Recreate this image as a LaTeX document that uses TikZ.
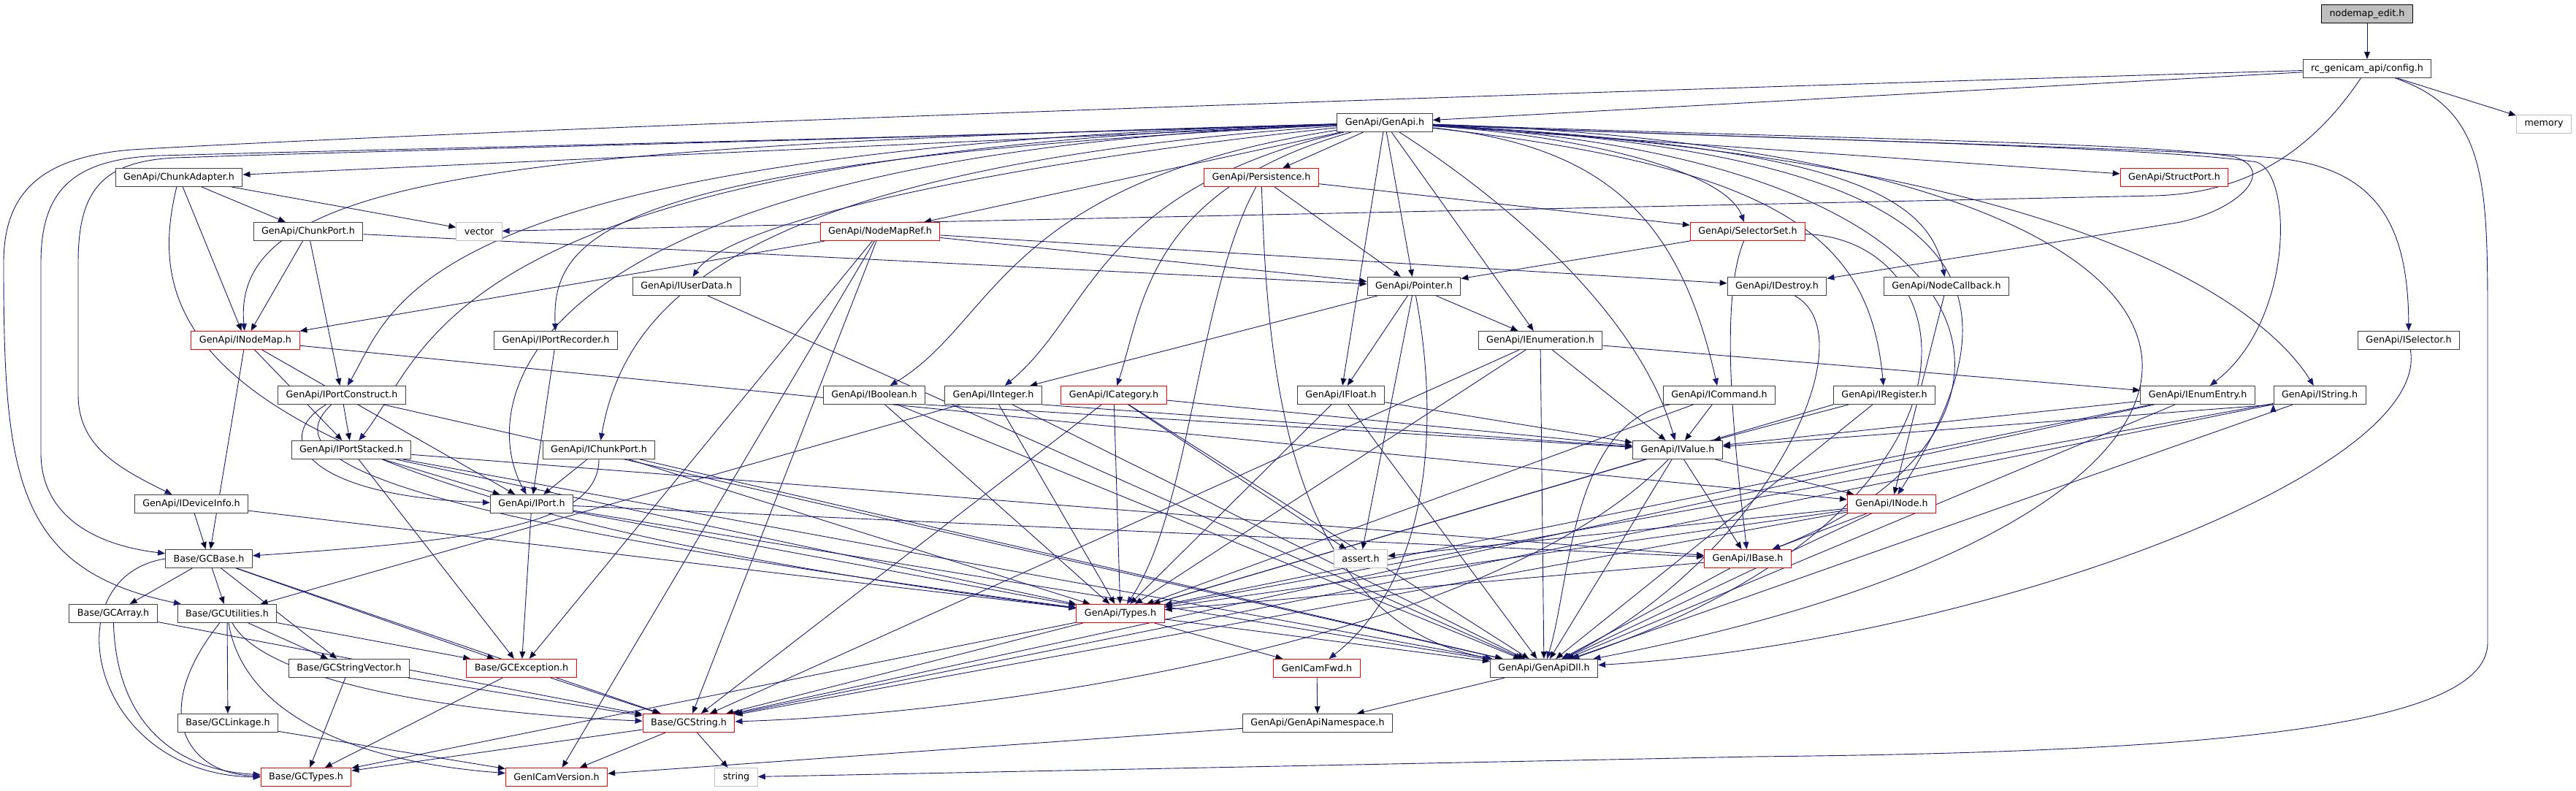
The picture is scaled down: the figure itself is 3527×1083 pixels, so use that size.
\documentclass[tikz,border=0pt]{standalone}
\usepackage{fontspec}
\setmainfont{DejaVu Sans}
\usetikzlibrary{arrows.meta,backgrounds}
\definecolor{depblue}{HTML}{191970}
\definecolor{hdrred}{HTML}{FF0000}
\definecolor{hdrgray}{HTML}{BFBFBF}
\newcommand{\hdrfont}{\fontsize{12.7}{15}\selectfont}

\begin{document}
\begin{tikzpicture}[x=1pt,y=-1pt,
  hdr/.style={draw=black!75,fill=white,font=\hdrfont,minimum height=25pt,inner xsep=11pt,inner ysep=0pt,line width=1pt},
  trunc/.style={hdr,draw=hdrred},
  syshdr/.style={hdr,draw=hdrgray},
  curhdr/.style={hdr,draw=black,fill=hdrgray},
  dep/.style={draw=depblue,line width=0.9pt,-{Triangle[length=10pt,width=8pt]}}]
  \useasboundingbox (0,0) rectangle (3527,1083);
  % headers, one row per rank
  \node[curhdr] (edit) at (3241,19) {nodemap\_edit.h};
  \node[hdr] (config) at (3241,94) {rc\_genicam\_api/config.h};
  \node[hdr] (genapi) at (1896,168) {GenApi/GenApi.h};
  \node[syshdr] (memory) at (3483,170) {memory};
  \node[hdr] (chunkadapter) at (245,243) {GenApi/ChunkAdapter.h};
  \node[trunc] (persistence) at (1727,243) {GenApi/Persistence.h};
  \node[trunc] (structport) at (2977,243) {GenApi/StructPort.h};
  \node[hdr] (chunkport) at (422,317) {GenApi/ChunkPort.h};
  \node[syshdr] (vector) at (656,317) {vector};
  \node[trunc] (nodemapref) at (1205,317) {GenApi/NodeMapRef.h};
  \node[trunc] (selectorset) at (2393,317) {GenApi/SelectorSet.h};
  \node[hdr] (iuserdata) at (940,392) {GenApi/IUserData.h};
  \node[hdr] (pointer) at (1936,392) {GenApi/Pointer.h};
  \node[hdr] (idestroy) at (2433,392) {GenApi/IDestroy.h};
  \node[hdr] (nodecallback) at (2665,392) {GenApi/NodeCallback.h};
  \node[trunc] (inodemap) at (336,466) {GenApi/INodeMap.h};
  \node[hdr] (iportrecorder) at (761,466) {GenApi/IPortRecorder.h};
  \node[hdr] (ienumeration) at (2109,466) {GenApi/IEnumeration.h};
  \node[hdr] (iselector) at (3298,466) {GenApi/ISelector.h};
  \node[hdr] (iportconstruct) at (468,541) {GenApi/IPortConstruct.h};
  \node[hdr] (iboolean) at (1197,541) {GenApi/IBoolean.h};
  \node[hdr] (iinteger) at (1360,541) {GenApi/IInteger.h};
  \node[trunc] (icategory) at (1525,541) {GenApi/ICategory.h};
  \node[hdr] (ifloat) at (1836,541) {GenApi/IFloat.h};
  \node[hdr] (icommand) at (2354,541) {GenApi/ICommand.h};
  \node[hdr] (iregister) at (2580,541) {GenApi/IRegister.h};
  \node[hdr] (ienumentry) at (3009,541) {GenApi/IEnumEntry.h};
  \node[hdr] (istring) at (3176,541) {GenApi/IString.h};
  \node[hdr] (iportstacked) at (481,616) {GenApi/IPortStacked.h};
  \node[hdr] (ichunkport) at (820,616) {GenApi/IChunkPort.h};
  \node[hdr] (ivalue) at (2297,616) {GenApi/IValue.h};
  \node[hdr] (ideviceinfo) at (262,690) {GenApi/IDeviceInfo.h};
  \node[hdr] (iport) at (728,690) {GenApi/IPort.h};
  \node[trunc] (inode) at (2590,690) {GenApi/INode.h};
  \node[hdr] (gcbase) at (286,765) {Base/GCBase.h};
  \node[syshdr] (assert) at (1863,765) {assert.h};
  \node[trunc] (ibase) at (2393,765) {GenApi/IBase.h};
  \node[hdr] (gcarray) at (155,840) {Base/GCArray.h};
  \node[hdr] (gcutilities) at (311,840) {Base/GCUtilities.h};
  \node[trunc] (types) at (1534,840) {GenApi/Types.h};
  \node[hdr] (gcstringvector) at (478,915) {Base/GCStringVector.h};
  \node[trunc] (gcexception) at (714,915) {Base/GCException.h};
  \node[trunc] (genicamfwd) at (1803,915) {GenICamFwd.h};
  \node[hdr] (genapidll) at (2114,915) {GenApi/GenApiDll.h};
  \node[hdr] (gclinkage) at (312,990) {Base/GCLinkage.h};
  \node[trunc] (gcstring) at (943,990) {Base/GCString.h};
  \node[hdr] (genapinamespace) at (1804,990) {GenApi/GenApiNamespace.h};
  \node[trunc] (gctypes) at (419,1064) {Base/GCTypes.h};
  \node[trunc] (genicamversion) at (762,1064) {GenICamVersion.h};
  \node[syshdr] (string) at (1008,1064) {string};

  \begin{scope}[on background layer]
  % straight includes
  \path[dep]
    (edit) edge (config)
    (config) edge (genapi) edge (memory)
    (genapi) edge (chunkadapter) edge (nodemapref) edge (persistence) edge (pointer)
      edge (ifloat) edge (ienumeration) edge (structport)
    (chunkadapter) edge (chunkport) edge (inodemap) edge (vector)
    (chunkport) edge (inodemap) edge (iportconstruct) edge (pointer)
    (persistence) edge (pointer) edge (selectorset)
    (nodemapref) edge (inodemap) edge (pointer) edge (idestroy) edge (gcexception)
      edge (gcstring) edge (genicamversion)
    (selectorset) edge (pointer)
    (iuserdata) edge (genapidll)
    (pointer) edge (iinteger) edge (ifloat) edge (ienumeration) edge (assert)
    (nodecallback) edge (inode)
    (inodemap) edge (gcbase) edge (iportstacked) edge (inode) edge (iport)
    (iportrecorder) edge (iport)
    (ienumeration) edge (ivalue) edge (ienumentry) edge (types) edge (genapidll) edge (gcstring)
    (iportconstruct) edge (iportstacked) edge (genapidll)
    (iboolean.south east) edge (ivalue)
    (iboolean) edge (types) edge (genapidll)
    (iinteger.south east) edge (ivalue)
    (iinteger) edge (types) edge (genapidll) edge (gcutilities)
    (icategory) edge (ivalue) edge (types) edge (genapidll) edge (gcstring) edge (assert)
    (ifloat) edge (ivalue) edge (types) edge (genapidll)
    (icommand) edge (ivalue) edge (types)
    (iregister) edge (ivalue) edge (genapidll)
    (iregister.south west) edge (types)
    (ienumentry) edge (ivalue) edge (types) edge (genapidll) edge (gcstring)
    (istring.south west) edge (ivalue)
    (istring) edge (types) edge (genapidll) edge (gcstring)
    (iportstacked) edge (iport) edge (types) edge (genapidll) edge (gcexception) edge (ibase)
    (ichunkport) edge (iport) edge (types) edge (genapidll)
    (ivalue) edge (inode) edge (ibase) edge (types) edge (genapidll)
    (ideviceinfo) edge (gcbase) edge (types)
    (iport) edge (gcexception) edge (ibase) edge (types) edge (genapidll)
    (inode) edge (ibase) edge (assert) edge (types) edge (genapidll) edge (gcstring)
    (gcbase) edge (gcarray) edge (gcutilities) edge (gcstringvector) edge (gcexception) edge (gcstring)
    (ibase) edge (types) edge (genapidll)
    (gcarray) edge (gcstring)
    (gcutilities) edge (gclinkage) edge (gcstringvector) edge (gcexception)
    (types) edge (genicamfwd) edge (genapidll) edge (gcstring) edge (gctypes)
    (gcstringvector) edge (gctypes) edge (gcstring)
    (gcexception) edge (gcstring) edge (gctypes)
    (genicamfwd) edge (genapinamespace)
    (genapidll) edge (genapinamespace)
    (gclinkage) edge (genicamversion)
    (gcstring) edge (string) edge (gctypes) edge (genicamversion)
    (genapinamespace) edge (genicamversion);
  % long curved includes
  \draw[dep] (config) .. controls (2000,130) and (600,180) .. (180,205)
    .. controls (60,215) and (5,260) .. (5,360) .. controls (5,650) and (20,780) .. (gcutilities);
  \draw[dep] (config) .. controls (3406,150) and (3406,250) .. (3406,450) -- (3406,880)
    .. controls (3406,1000) and (3000,1030) .. (2400,1036) -- (string);
  \draw[dep] (config) .. controls (3150,230) and (3050,265) .. (2950,268) -- (vector);
  \draw[dep] (genapi) .. controls (1200,190) and (500,205) .. (220,213)
    .. controls (100,217) and (56,260) .. (56,360) -- (56,620) .. controls (56,700) and (120,745) .. (gcbase);
  \draw[dep] (genapi) .. controls (1200,190) and (500,207) .. (240,216)
    .. controls (140,221) and (107,260) .. (107,360) -- (107,540) .. controls (107,610) and (160,640) .. (ideviceinfo);
  \draw[dep] (genapi) .. controls (700,200) and (315,240) .. (inodemap);
  \draw[dep] (genapi) .. controls (560,205) and (540,420) .. (iportconstruct);
  \draw[dep] (genapi) .. controls (600,210) and (590,480) .. (iportstacked);
  \draw[dep] (genapi) .. controls (680,215) and (655,560) .. (iport);
  \draw[dep] (genapi) .. controls (830,220) and (755,320) .. (iportrecorder);
  \draw[dep] (genapi) .. controls (1000,230) and (855,420) .. (ichunkport);
  \draw[dep] (genapi) .. controls (1400,220) and (1000,300) .. (iuserdata);
  \draw[dep] (genapi) .. controls (1370,250) and (1365,440) .. (iboolean);
  \draw[dep] (genapi) .. controls (1500,260) and (1495,430) .. (iinteger);
  \draw[dep] (genapi) .. controls (1570,260) and (1565,420) .. (icategory);
  \draw[dep] (genapi) .. controls (2100,300) and (2250,450) .. (ivalue);
  \draw[dep] (genapi) .. controls (2200,200) and (2300,300) .. (icommand);
  \draw[dep] (genapi) .. controls (2150,185) and (2360,230) .. (selectorset);
  \draw[dep] (genapi) .. controls (2500,190) and (2950,195) .. (3060,215)
    .. controls (3120,235) and (3060,290) .. (2980,305) -- (idestroy);
  \draw[dep] (genapi) .. controls (2500,200) and (2640,260) .. (nodecallback);
  \draw[dep] (genapi) .. controls (2450,230) and (2560,330) .. (iregister);
  \draw[dep] (genapi) .. controls (2700,210) and (2790,380) .. (inode);
  \draw[dep] (genapi) .. controls (2800,220) and (2820,600) .. (ibase);
  \draw[dep] (genapi) .. controls (2850,220) and (3100,420) .. (istring);
  \draw[dep] (genapi) .. controls (2400,190) and (2950,200) .. (3090,222)
    .. controls (3140,240) and (3140,440) .. (ienumentry);
  \draw[dep] (genapi) .. controls (2400,190) and (2900,200) .. (3100,215)
    .. controls (3250,225) and (3297,300) .. (iselector);
  \draw[dep] (genapi) .. controls (3200,210) and (3230,700) .. (genapidll);
  \draw[dep] (chunkadapter) .. controls (195,450) and (260,680) .. (types);
  \draw[dep] (persistence) .. controls (1640,400) and (1630,700) .. (types);
  \draw[dep] (persistence) .. controls (1735,500) and (1760,850) .. (genapidll);
  \draw[dep] (selectorset) .. controls (2350,420) and (2380,650) .. (ibase);
  \draw[dep] (selectorset) .. controls (2700,330) and (2750,700) .. (genapidll);
  \draw[dep] (pointer) .. controls (1975,600) and (1950,800) .. (genicamfwd);
  \draw[dep] (idestroy) .. controls (2560,460) and (2420,760) .. (genapidll);
  \draw[dep] (iselector) .. controls (3330,650) and (2700,880) .. (genapidll);
  \draw[dep] (icommand) .. controls (2150,580) and (2150,800) .. (genapidll);
  \draw[dep] (iportconstruct) .. controls (370,600) and (420,680) .. (iport);
  \draw[dep] (iportconstruct) .. controls (360,640) and (600,715) .. (types);
  \draw[dep] (ichunkport) .. controls (820,720) and (650,740) .. (gcbase);
  \draw[dep] (ivalue) .. controls (2050,870) and (1400,975) .. (gcstring);
  \draw[dep] (gcbase.west) .. controls (70,790) and (120,1060) .. (gctypes.west);
  \draw[dep] (gcarray) .. controls (160,1000) and (250,1055) .. (gctypes);
  \draw[dep] (gcutilities) .. controls (200,980) and (260,1060) .. (gctypes);
  \draw[dep] (gcutilities) .. controls (330,960) and (450,1040) .. (genicamversion);
  \draw[dep] (gcutilities) .. controls (360,930) and (600,975) .. (gcstring);
  \end{scope}
\end{tikzpicture}
\end{document}
